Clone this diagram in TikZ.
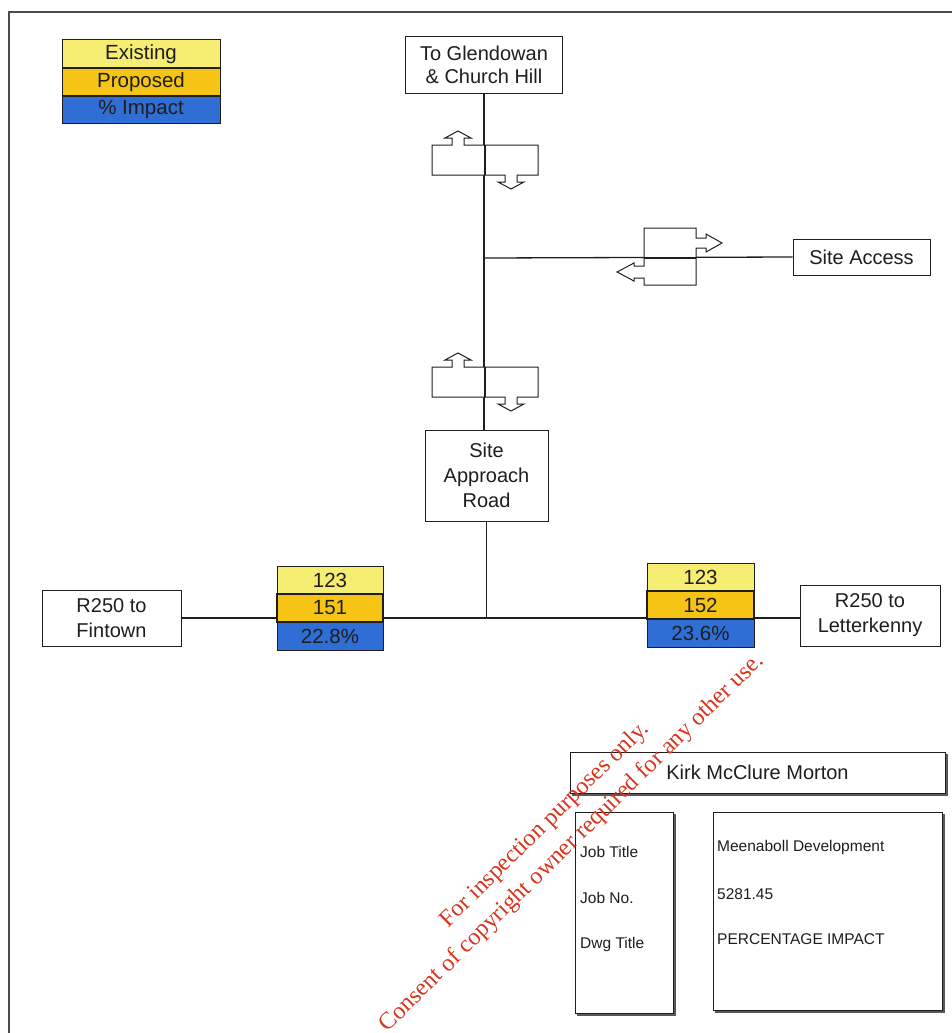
\documentclass[tikz,border=0pt]{standalone}
\usepackage{fontspec}
\setmainfont{Liberation Sans}
\newfontfamily\wmfont{Liberation Serif}
\usetikzlibrary{shadows}
\definecolor{exyel}{HTML}{F6EE72}
\definecolor{prgold}{HTML}{F5C414}
\definecolor{imblue}{HTML}{2F6ED4}
\definecolor{inkc}{HTML}{1E1E1E}
\definecolor{wmred}{HTML}{D8341E}
\tikzset{
  lbl/.style={draw=inkc, line width=1pt, fill=white, align=center, inner sep=0pt,
    font=\fontsize{20}{25}\selectfont, text=inkc},
  cell/.style={draw=inkc, line width=1pt, inner sep=0pt, minimum height=28pt,
    font=\fontsize{20.5}{24}\selectfont, text=inkc},
  road/.style={draw=inkc, line width=1.3pt},
  sym/.style={draw=inkc, line width=1pt, fill=white, line join=miter},
  tbox/.style={draw=inkc, line width=1pt, fill=white, inner sep=0pt,
    copy shadow={shadow xshift=2.5pt, shadow yshift=-2.5pt, draw=gray!70!black, fill=gray!70!black}},
  tsmall/.style={anchor=west, inner sep=0pt, font=\fontsize{15.5}{18}\selectfont, text=inkc},
  wm/.style={text=wmred, font=\wmfont\fontsize{24}{28}\selectfont, rotate=44.5, inner sep=0pt}
}
\begin{document}
\begin{tikzpicture}[x=1pt,y=-1pt]
\useasboundingbox (0,0) rectangle (952,1033);
% frame
\draw[draw=inkc!80, line width=2pt] (952,12) -- (9,12) -- (9,1033);
% legend
\node[cell, fill=exyel, minimum width=158pt] (lgex) at (141,54) {Existing};
\node[cell, fill=prgold, minimum width=158pt, minimum height=27pt] (lgpr) at (141,82) {Proposed};
\node[cell, fill=imblue, minimum width=158pt, minimum height=27pt] (lgim) at (141,109.5) {\% Impact};
% place boxes
\node[lbl, minimum width=157pt, minimum height=56pt] (glen) at (484,65) {To Glendowan\\[-2pt]\& Church Hill};
\node[lbl, minimum width=123pt, minimum height=91pt] (appr) at (486.5,475.5) {Site\\Approach\\Road};
\node[lbl, minimum width=137pt, minimum height=36pt] (acc) at (861.5,257) {Site Access};
\node[lbl, minimum width=139pt, minimum height=56pt] (fin) at (111.5,618) {R250 to\\Fintown};
\node[lbl, minimum width=140pt, minimum height=61pt] (let) at (870,615.5) {R250 to\\Letterkenny};
\coordinate (j1) at (485,258);
\coordinate (j2) at (486.5,618);
% roads
\draw[road] (glen.south) -- (glen.south |- appr.north);
\draw[road] (appr.south) -- (j2);
\draw[road] (j1) -- (acc.west);
\draw[road] (fin.east) -- (fin.east -| let.west);
% direction symbols (vertical)
\foreach \cy in {160,382}{
  \draw[sym] (485,\cy) ++(-53,-15) -- ++(20,0) -- ++(0,-7) -- ++(-7,0) -- ++(13,-7) -- ++(13,7) -- ++(-7,0) -- ++(0,7)
    -- (538,\cy-15) -- (538,\cy+15) -- (517,\cy+15) -- ++(0,7) -- ++(7,0) -- ++(-13,7) -- ++(-13,-7) -- ++(7,0) -- ++(0,-7)
    -- (432,\cy+15) -- cycle;
  \draw[road] (485,\cy-15) -- (485,\cy+15);
}
% direction symbol (horizontal)
\draw[sym] (644,228) -- (696,228) -- (696,238) -- (706,238) -- (706,234) -- (722,243) -- (706,252) -- (706,248) -- (696,248)
  -- (696,285) -- (644,285) -- (644,278) -- (634,278) -- (634,281) -- (617,272) -- (634,263) -- (634,266) -- (644,266) -- cycle;
\draw[road, line width=2pt] (644,257.5) -- (696,257.5);
% data cells left
\node[cell, fill=exyel, minimum width=106pt] (l1) at (330,580) {123};
\node[cell, fill=prgold, minimum width=106pt, line width=2pt] (l2) at (330,608) {151};
\node[cell, fill=imblue, minimum width=106pt] (l3) at (330,636) {22.8\%};
% data cells right
\node[cell, fill=exyel, minimum width=107pt] (r1) at (700.5,577) {123};
\node[cell, fill=prgold, minimum width=107pt, line width=2pt] (r2) at (700.5,605) {152};
\node[cell, fill=imblue, minimum width=107pt] (r3) at (700.5,633) {23.6\%};
% title block
\node[tbox, minimum width=375pt, minimum height=41pt, font=\fontsize{20}{24}\selectfont, text=inkc] (kmm) at (757.5,772.5) {Kirk McClure Morton};
\node[tbox, minimum width=98pt, minimum height=201pt] (tbl) at (624,912.5) {};
\node[tbox, minimum width=229pt, minimum height=198pt] (tbr) at (827.5,911) {};
\node[tsmall] (t1) at (580,852) {Job Title};
\node[tsmall] (t2) at (580,898) {Job No.};
\node[tsmall] (t3) at (580,944) {Dwg Title};
\node[tsmall] (v1) at (717,847) {Meenaboll Development};
\node[tsmall] (v2) at (717,894) {5281.45};
\node[tsmall] (v3) at (717,939) {PERCENTAGE IMPACT};
% watermark
\node[wm] (wm1) at (545,825) {For inspection purposes only.};
\node[wm] (wm2) at (572,843) {Consent of copyright owner required for any other use.};
\end{tikzpicture}
\end{document}
